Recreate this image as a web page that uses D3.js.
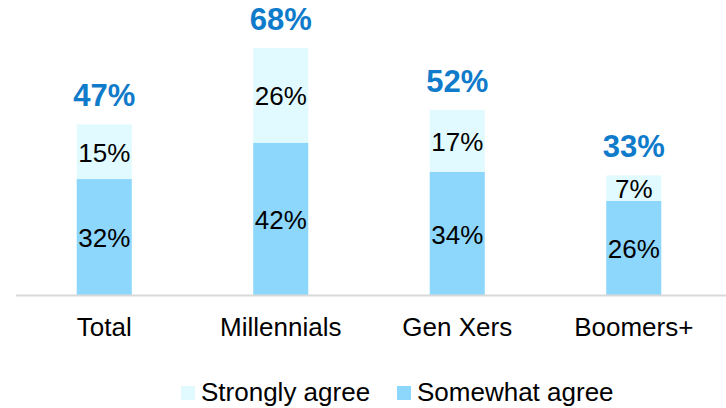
<!DOCTYPE html>
<html><head><meta charset="utf-8">
<script src="https://cdn.jsdelivr.net/npm/d3@7"></script>
<style>body{margin:0;background:#fff}svg{display:block}text{font-family:Arial,"Liberation Sans",sans-serif}</style>
</head><body>
<svg id="c" width="726" height="408"></svg>
<script>
const categories = ["Total", "Millennials", "Gen Xers", "Boomers+"];
const somewhatAgree = [32, 42, 34, 26];
const stronglyAgree = [15, 26, 17, 7];
const totals = [47, 68, 52, 33];
const seriesNames = ["Strongly agree", "Somewhat agree"];
const colors = {"Strongly agree": "#E1FAFF", "Somewhat agree": "#8DD7FD"};

const svg = d3.select("#c");
const baseY = 295.5;
const x = d3.scaleBand().domain(categories).range([16, 722]).paddingInner(0.688).paddingOuter(0.344);
const y = d3.scaleLinear().domain([0, 68]).range([baseY, 48]);

const data = categories.map((c, i) => ({cat: c, somewhat: somewhatAgree[i], strongly: stronglyAgree[i], total: totals[i]}));

// bars
const g = svg.append("g");
g.selectAll(".s").data(data).join("rect")
  .attr("x", d => x(d.cat)).attr("width", x.bandwidth())
  .attr("y", d => y(d.somewhat)).attr("height", d => y(0) - y(d.somewhat))
  .attr("fill", colors["Somewhat agree"]);
g.selectAll(".t").data(data).join("rect")
  .attr("x", d => x(d.cat)).attr("width", x.bandwidth())
  .attr("y", d => y(d.somewhat + d.strongly)).attr("height", d => y(d.somewhat) - y(d.somewhat + d.strongly))
  .attr("fill", colors["Strongly agree"]);

// segment labels
g.selectAll(".ls").data(data).join("text")
  .attr("x", d => x(d.cat) + x.bandwidth() / 2)
  .attr("y", d => (y(0) + y(d.somewhat)) / 2 + 1)
  .attr("dy", "0.35em").attr("text-anchor", "middle")
  .attr("font-size", 26).attr("fill", "#000")
  .text(d => d.somewhat + "%");
g.selectAll(".lt").data(data).join("text")
  .attr("x", d => x(d.cat) + x.bandwidth() / 2)
  .attr("y", d => (y(d.somewhat) + y(d.somewhat + d.strongly)) / 2 + 1)
  .attr("dy", "0.35em").attr("text-anchor", "middle")
  .attr("font-size", 26).attr("fill", "#000")
  .text(d => d.strongly + "%");

// totals
g.selectAll(".tot").data(data).join("text")
  .attr("x", d => x(d.cat) + x.bandwidth() / 2)
  .attr("y", d => y(d.somewhat + d.strongly) - 18)
  .attr("text-anchor", "middle")
  .attr("font-size", 31).attr("font-weight", "bold").attr("fill", "#0F7BCA")
  .text(d => d.total + "%");

// axis
const ax = svg.append("g").attr("transform", `translate(0,${baseY})`)
  .call(d3.axisBottom(x).tickSize(0).tickPadding(22));
ax.select(".domain").attr("stroke", "#D9D9D9").attr("stroke-width", 2).attr("d", "M16,0H726");
ax.selectAll("text").attr("font-size", 26).attr("fill", "#000").attr("font-family", "Arial, 'Liberation Sans', sans-serif")
  .attr("dy", "0.71em");

// legend
const legX = [181, 397];
const leg = svg.append("g");
seriesNames.forEach((n, i) => {
  leg.append("rect").attr("x", legX[i]).attr("y", 386).attr("width", 14).attr("height", 14).attr("fill", colors[n]);
  leg.append("text").attr("x", legX[i] + 20).attr("y", 401).attr("font-size", 26).attr("fill", "#000").text(n);
});
</script>
</body></html>
